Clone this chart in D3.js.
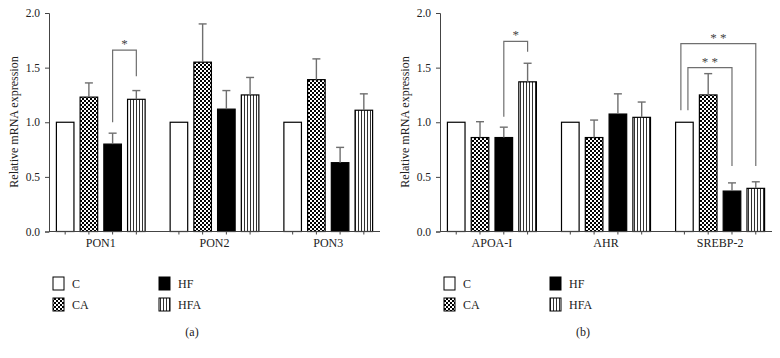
<!DOCTYPE html>
<html>
<head>
<meta charset="utf-8">
<script src="https://cdn.jsdelivr.net/npm/d3@7"></script>
<style>
  body { margin: 0; background: #fff; }
  svg text { font-family: "Liberation Serif", "Times New Roman", serif; fill: #222; }
</style>
</head>
<body>
<div id="chart"></div>
<script>
// Groups, series and values
const seriesNames = ["C", "CA", "HF", "HFA"];
const yTicks = [0, 0.5, 1.0, 1.5, 2.0];

// Panel (a)
const genesA = ["PON1", "PON2", "PON3"];
const a_C = [1.00, 1.00, 1.00];
const a_CA = [1.23, 1.55, 1.39];
const a_HF = [0.80, 1.12, 0.63];
const a_HFA = [1.21, 1.25, 1.11];
const a_errC = [0, 0, 0];
const a_errCA = [0.13, 0.35, 0.19];
const a_errHF = [0.10, 0.17, 0.14];
const a_errHFA = [0.08, 0.16, 0.15];
const bracketsA = [
    { gene: "PON1", from: "HF", to: "HFA", fromEnd: 1.00, top: 1.66, toEnd: 1.42, label: "*" }
];

// Panel (b)
const genesB = ["APOA-I", "AHR", "SREBP-2"];
const b_C = [1.00, 1.00, 1.00];
const b_CA = [0.86, 0.86, 1.25];
const b_HF = [0.86, 1.075, 0.37];
const b_HFA = [1.37, 1.045, 0.395];
const b_errC = [0, 0, 0];
const b_errCA = [0.145, 0.16, 0.195];
const b_errHF = [0.095, 0.185, 0.075];
const b_errHFA = [0.17, 0.14, 0.06];
const bracketsB = [
    { gene: "APOA-I", from: "HF", to: "HFA", fromEnd: 1.05, top: 1.74, toEnd: 1.645, label: "*" },
    { gene: "SREBP-2", from: "C", to: "HFA", fromEnd: 1.11, top: 1.72, toEnd: 0.60, label: "* *" },
    { gene: "SREBP-2", from: "C", to: "HF", fromEnd: 1.11, top: 1.50, toEnd: 0.60, label: "* *" }
];

const svg = d3.select("#chart").append("svg")
    .attr("width", 780)
    .attr("height", 358);

// patterns for CA (checker) and HFA (vertical stripes)
const defs = svg.append("defs");
const checker = defs.append("pattern")
    .attr("id", "checker")
    .attr("patternUnits", "userSpaceOnUse")
    .attr("width", 4).attr("height", 4);
checker.append("rect").attr("width", 4).attr("height", 4).attr("fill", "#fff");
checker.append("rect").attr("width", 2).attr("height", 2).attr("fill", "#000");
checker.append("rect").attr("x", 2).attr("y", 2).attr("width", 2).attr("height", 2).attr("fill", "#000");

const stripes = defs.append("pattern")
    .attr("id", "stripes")
    .attr("patternUnits", "userSpaceOnUse")
    .attr("width", 3).attr("height", 4);
stripes.append("rect").attr("width", 3).attr("height", 4).attr("fill", "#fff");
stripes.append("rect").attr("x", 1).attr("width", 1).attr("height", 4).attr("fill", "#333");

const fills = { C: "#fff", CA: "url(#checker)", HF: "#000", HFA: "url(#stripes)" };
const grey = "#6f6f6f";

function buildRows(genes, cols, errs) {
    return genes.map((g, i) => ({
        gene: g,
        values: seriesNames.map((s, k) => ({ series: s, mean: cols[k][i], err: errs[k][i] }))
    }));
}

function drawPanel(opts) {
    const { left, right, rows, brackets, tag } = opts;
    const g = svg.append("g");

    const y = d3.scaleLinear().domain([0, 2]).range([231.5, 13]);

    const x0 = d3.scaleBand()
        .domain(rows.map(d => d.gene))
        .range([left, right])
        .paddingInner(0.22)
        .paddingOuter(0.065);

    const x1 = d3.scaleBand()
        .domain(seriesNames)
        .range([0, x0.bandwidth()])
        .paddingInner(0.26)
        .paddingOuter(0);

    const cx = (gene, s) => x0(gene) + x1(s) + x1.bandwidth() / 2;

    // bars
    rows.forEach(r => {
        r.values.forEach(v => {
            g.append("rect")
                .attr("x", x0(r.gene) + x1(v.series))
                .attr("y", y(v.mean))
                .attr("width", x1.bandwidth())
                .attr("height", y(0) - y(v.mean))
                .attr("fill", fills[v.series])
                .attr("stroke", "#000")
                .attr("stroke-width", 1.2);

            // upward error bar
            if (v.err > 0) {
                const c = cx(r.gene, v.series);
                g.append("line")
                    .attr("x1", c).attr("x2", c)
                    .attr("y1", y(v.mean)).attr("y2", y(v.mean + v.err))
                    .attr("stroke", grey).attr("stroke-width", 1.4);
                g.append("line")
                    .attr("x1", c - 4).attr("x2", c + 4)
                    .attr("y1", y(v.mean + v.err)).attr("y2", y(v.mean + v.err))
                    .attr("stroke", grey).attr("stroke-width", 1.4);
            }
        });
    });

    // significance brackets
    const startCount = {};
    brackets.forEach(b => {
        const key = b.gene + b.from;
        startCount[key] = (startCount[key] || 0) + 1;
    });
    const startSeen = {};
    brackets.forEach(b => {
        const key = b.gene + b.from;
        let xa = cx(b.gene, b.from);
        if (startCount[key] > 1) {
            const idx = startSeen[key] || 0;
            startSeen[key] = idx + 1;
            xa += (idx === 0 ? -0.2 : 0.2) * x1.bandwidth();
        }
        const xb = cx(b.gene, b.to);
        g.append("path")
            .attr("d", `M${xa},${y(b.fromEnd)}V${y(b.top)}H${xb}V${y(b.toEnd)}`)
            .attr("fill", "none")
            .attr("stroke", grey)
            .attr("stroke-width", 1.2);
        g.append("text")
            .attr("x", (xa + xb) / 2)
            .attr("y", y(b.top) - 2)
            .attr("text-anchor", "middle")
            .style("font-size", "13px")
            .style("fill", "#444")
            .text(b.label);
    });

    // y axis
    const yAxis = g.append("g")
        .attr("transform", `translate(${left},0)`)
        .call(d3.axisLeft(y).tickValues(yTicks).tickFormat(d3.format(".1f")).tickSize(4).tickPadding(5));
    yAxis.select(".domain").attr("stroke", "#444");
    yAxis.selectAll(".tick line").attr("stroke", "#444");
    yAxis.selectAll("text")
        .style("font-family", "'Liberation Serif', serif")
        .style("font-size", "11.5px")
        .attr("fill", "#222");

    // x axis line with small ticks under each bar
    g.append("line")
        .attr("x1", left).attr("x2", right)
        .attr("y1", y(0)).attr("y2", y(0))
        .attr("stroke", "#444").attr("stroke-width", 1);
    rows.forEach(r => {
        seriesNames.forEach(s => {
            const c = cx(r.gene, s);
            g.append("line")
                .attr("x1", c).attr("x2", c)
                .attr("y1", y(0)).attr("y2", y(0) + 3)
                .attr("stroke", "#444");
        });
        g.append("text")
            .attr("x", x0(r.gene) + x0.bandwidth() / 2)
            .attr("y", 247)
            .attr("text-anchor", "middle")
            .style("font-size", "12px")
            .text(r.gene);
    });

    // y axis title
    g.append("text")
        .attr("transform", `translate(${left - 31},122) rotate(-90)`)
        .attr("text-anchor", "middle")
        .style("font-size", "12px")
        .text("Relative mRNA expression");

    // legend
    const legendPos = [[0, 0], [0, 1], [1, 0], [1, 1]];
    seriesNames.forEach((s, i) => {
        const lx = left + 4 + legendPos[i][0] * 106;
        const ly = 277 + legendPos[i][1] * 21;
        g.append("rect")
            .attr("x", lx).attr("y", ly)
            .attr("width", 11).attr("height", 13)
            .attr("fill", fills[s])
            .attr("stroke", "#000")
            .attr("stroke-width", 1);
        g.append("text")
            .attr("x", lx + 19)
            .attr("y", ly + 11)
            .style("font-size", "12px")
            .text(s);
    });

    g.append("text")
        .attr("x", left + 143)
        .attr("y", 336)
        .attr("text-anchor", "middle")
        .style("font-size", "12px")
        .text(tag);
}

drawPanel({
    left: 49, right: 380,
    rows: buildRows(genesA, [a_C, a_CA, a_HF, a_HFA], [a_errC, a_errCA, a_errHF, a_errHFA]),
    brackets: bracketsA,
    tag: "(a)"
});

drawPanel({
    left: 440, right: 772,
    rows: buildRows(genesB, [b_C, b_CA, b_HF, b_HFA], [b_errC, b_errCA, b_errHF, b_errHFA]),
    brackets: bracketsB,
    tag: "(b)"
});
</script>
</body>
</html>
